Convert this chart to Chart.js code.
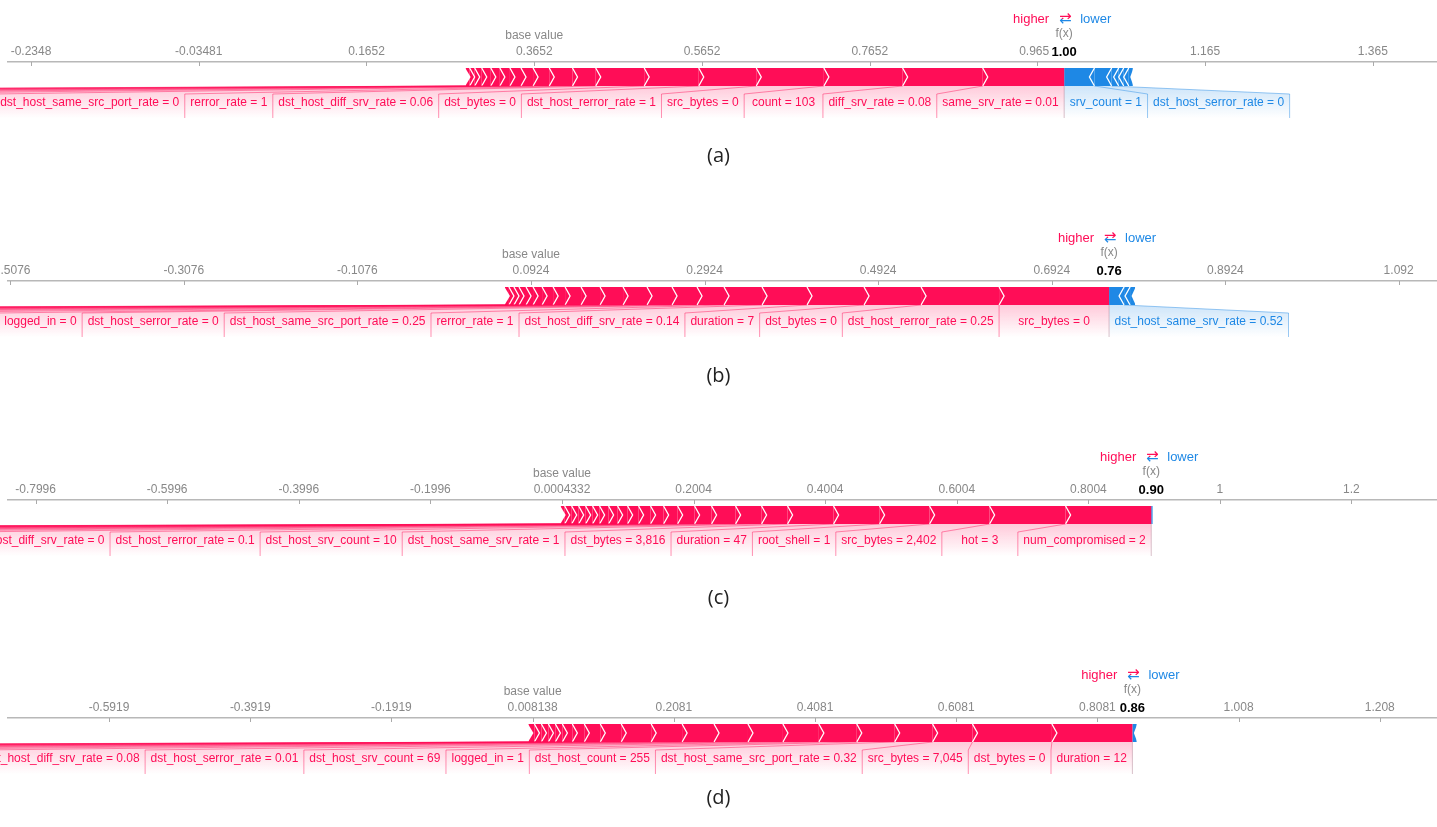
<!DOCTYPE html>
<html>
<head>
<meta charset="utf-8">
<script src="https://cdn.jsdelivr.net/npm/chart.js@4"></script>
<style>
  body { margin: 0; background: #fff; width: 1437px; height: 827px; overflow: hidden; position: relative; }
  .panel { position: absolute; left: 0; }
  .cap { position: absolute; left: 0; width: 1437px; text-align: center; font: 20px "Open Sans", sans-serif; color: #222; }
</style>
</head>
<body>
<canvas class="panel" id="p0" width="1437" height="219" style="top:0"></canvas>
<canvas class="panel" id="p1" width="1437" height="219" style="top:219px"></canvas>
<canvas class="panel" id="p2" width="1437" height="219" style="top:438px"></canvas>
<canvas class="panel" id="p3" width="1437" height="171" style="top:656px"></canvas>
<div class="cap" style="top:141px">(a)</div>
<div class="cap" style="top:361px">(b)</div>
<div class="cap" style="top:583px">(c)</div>
<div class="cap" style="top:783px">(d)</div>
<script>
// ---- data ----
const panelNames = ['(a)', '(b)', '(c)', '(d)'];
const baseValues = [0.3652, 0.0924, 0.0004332, 0.008138];
const axisMin = [-0.2622, -0.5101, -0.8415, -0.7350];
const axisMax = [1.4415, 1.1362, 1.3302, 1.2891];

const tickValues = [
    [-0.2348, -0.03481, 0.1652, 0.3652, 0.5652, 0.7652, 0.9652, 1.165, 1.365],
    [-0.5076, -0.3076, -0.1076, 0.0924, 0.2924, 0.4924, 0.6924, 0.8924, 1.092],
    [-0.7996, -0.5996, -0.3996, -0.1996, 0.0004332, 0.2004, 0.4004, 0.6004, 0.8004, 1, 1.2],
    [-0.5919, -0.3919, -0.1919, 0.008138, 0.2081, 0.4081, 0.6081, 0.8081, 1.008, 1.208]
];
const tickText = [
    ['-0.2348', '-0.03481', '0.1652', '0.3652', '0.5652', '0.7652', '0.9652', '1.165', '1.365'],
    ['-0.5076', '-0.3076', '-0.1076', '0.0924', '0.2924', '0.4924', '0.6924', '0.8924', '1.092'],
    ['-0.7996', '-0.5996', '-0.3996', '-0.1996', '0.0004332', '0.2004', '0.4004', '0.6004', '0.8004', '1', '1.2'],
    ['-0.5919', '-0.3919', '-0.1919', '0.008138', '0.2081', '0.4081', '0.6081', '0.8081', '1.008', '1.208']
];

// red (pushing higher), left to right; '' = too small to be labelled on screen
const redEffectsA = [0.0048, 0.006, 0.0084, 0.0108, 0.0108, 0.012, 0.0132, 0.0144, 0.0193,
    0.0277, 0.0277, 0.0578, 0.065, 0.0686, 0.0806, 0.0939, 0.0955, 0.0971];
const redLabelsA = ['', '', '', '', '', '', '', '', '',
    'dst_host_same_src_port_rate = 0', 'rerror_rate = 1', 'dst_host_diff_srv_rate = 0.06', 'dst_bytes = 0',
    'dst_host_rerror_rate = 1', 'src_bytes = 0', 'count = 103', 'diff_srv_rate = 0.08', 'same_srv_rate = 0.01'];
// blue (pushing lower), from f(x) outwards
const blueEffectsA = [0.0361, 0.0205, 0.0084, 0.006, 0.006, 0.0048];
const blueLabelsA = ['srv_count = 1', 'dst_host_serror_rate = 0', '', '', '', ''];

const redEffectsB = [0.0046, 0.0058, 0.0058, 0.0081, 0.0081, 0.0104, 0.0127, 0.0138, 0.0184, 0.0219, 0.0265, 0.0276,
    0.0288, 0.0288, 0.0311, 0.0438, 0.0518, 0.0657, 0.0657, 0.0899, 0.1267];
const redLabelsB = ['', '', '', '', '', '', '', '', '', '', '', '',
    'logged_in = 0', 'dst_host_serror_rate = 0', 'dst_host_same_src_port_rate = 0.25', 'rerror_rate = 1',
    'dst_host_diff_srv_rate = 0.14', 'duration = 7', 'dst_bytes = 0', 'dst_host_rerror_rate = 0.25', 'src_bytes = 0'];
const blueEffectsB = [0.0173, 0.0069, 0.0058];
const blueLabelsB = ['dst_host_same_srv_rate = 0.52', '', ''];

const redEffectsC = [0.0061, 0.0106, 0.0106, 0.0106, 0.0106, 0.0106, 0.0137, 0.0137, 0.0152, 0.0167, 0.0182, 0.0198, 0.0213, 0.0258,
    0.0258, 0.0365, 0.0395, 0.0395, 0.0699, 0.0699, 0.076, 0.0912, 0.1155, 0.1302];
const redLabelsC = ['', '', '', '', '', '', '', '', '', '', '', '', '', '',
    'dst_host_diff_srv_rate = 0', 'dst_host_rerror_rate = 0.1', 'dst_host_srv_count = 10', 'dst_host_same_srv_rate = 1',
    'dst_bytes = 3,816', 'duration = 47', 'root_shell = 1', 'src_bytes = 2,402', 'hot = 3', 'num_compromised = 2'];
const blueEffectsC = [0.002];
const blueLabelsC = [''];

const redEffectsD = [0.0085, 0.0099, 0.0099, 0.0099, 0.0099, 0.0141, 0.017, 0.0226, 0.0297, 0.0424, 0.0438, 0.0452,
    0.0481, 0.0495, 0.0509, 0.0537, 0.0537, 0.0537, 0.0565, 0.1125, 0.114];
const redLabelsD = ['', '', '', '', '', '', '', '', '', '', '', '',
    'dst_host_diff_srv_rate = 0.08', 'dst_host_serror_rate = 0.01', 'dst_host_srv_count = 69', 'logged_in = 1',
    'dst_host_count = 255', 'dst_host_same_src_port_rate = 0.32', 'src_bytes = 7,045', 'dst_bytes = 0', 'duration = 12'];
const blueEffectsD = [0.006];
const blueLabelsD = [''];

const redEffects = [redEffectsA, redEffectsB, redEffectsC, redEffectsD];
const redLabels = [redLabelsA, redLabelsB, redLabelsC, redLabelsD];
const blueEffects = [blueEffectsA, blueEffectsB, blueEffectsC, blueEffectsD];
const blueLabels = [blueLabelsA, blueLabelsB, blueLabelsC, blueLabelsD];

const RED = '#ff0d57', BLUE = '#1e88e5';
const FONT = '"Liberation Sans", Arial, sans-serif';

function buildSegments(base, red, blue) {
    const neg = blue.reduce((a, b) => a + b, 0);
    let v = base - neg;
    const reds = [], blues = [];
    red.forEach(e => { reds.push([v, v + e]); v += e; });
    const fx = v;
    blue.forEach(e => { blues.push([v, v + e]); v += e; });
    return { reds, blues, fx };
}

function link(ctx, l, r, bl, br, bot, lt, lb, rgb, edgeX0, edgeX1) {
    const g = ctx.createLinearGradient(0, bot, 0, lb);
    g.addColorStop(0, 'rgba(' + rgb + ',0.22)');
    g.addColorStop(1, 'rgba(' + rgb + ',0)');
    ctx.fillStyle = g;
    ctx.beginPath();
    ctx.moveTo(l, bot); ctx.lineTo(r, bot); ctx.lineTo(br, lt); ctx.lineTo(br, lb);
    ctx.lineTo(bl, lb); ctx.lineTo(bl, lt); ctx.closePath();
    ctx.fill();
    ctx.strokeStyle = 'rgba(' + rgb + ',0.45)';
    ctx.lineWidth = 1;
    ctx.beginPath();
    ctx.moveTo(edgeX0, bot); ctx.lineTo(edgeX1, lt); ctx.lineTo(edgeX1, lb);
    ctx.stroke();
}

const forcePlugin = {
    id: 'force',
    afterDatasetsDraw(chart, args, o) {
        const ctx = chart.ctx, xs = chart.scales.x, area = chart.chartArea;
        const bar = chart.getDatasetMeta(0).data[0];
        const top = bar.y - bar.height / 2, bot = bar.y + bar.height / 2, mid = bar.y;
        const px = v => xs.getPixelForValue(v);
        const tip = 5;
        const fxPx = px(o.fx);
        ctx.save();

        // small tick marks under the axis line
        ctx.strokeStyle = '#aaa'; ctx.lineWidth = 1;
        xs.ticks.forEach(t => {
            const p = Math.round(px(t.value)) + 0.5;
            ctx.beginPath(); ctx.moveTo(p, area.top); ctx.lineTo(p, area.top + 4); ctx.stroke();
        });

        // chevrons between the feature blocks
        ctx.strokeStyle = '#fff'; ctx.fillStyle = '#fff'; ctx.lineWidth = 1.3;
        o.reds.forEach((s, i) => {
            const b = px(s[0]);
            ctx.beginPath();
            if (i === 0) {
                ctx.moveTo(b - 1, top - 1); ctx.lineTo(b + tip, mid); ctx.lineTo(b - 1, bot + 1); ctx.closePath(); ctx.fill();
            } else {
                ctx.moveTo(b, top); ctx.lineTo(b + tip, mid); ctx.lineTo(b, bot); ctx.stroke();
            }
        });
        o.blues.forEach((s, i) => {
            const b = px(s[1]);
            ctx.beginPath();
            if (i === o.blues.length - 1) {
                const d = Math.max(0, Math.min(tip, b - px(s[0]) - 1.5));
                if (d > 0) {
                    ctx.moveTo(b + 1, top - 1); ctx.lineTo(b - d, mid); ctx.lineTo(b + 1, bot + 1); ctx.closePath(); ctx.fill();
                }
            } else {
                ctx.moveTo(b, top); ctx.lineTo(b - tip, mid); ctx.lineTo(b, bot); ctx.stroke();
            }
        });

        // labels under the bar
        const lt = bot + 8, lb = bot + 32, ly = bot + 17;
        ctx.font = '12px ' + FONT;
        const texts = [];
        let cur = fxPx;
        for (let i = o.reds.length - 1; i >= 0; i--) {
            const l = px(o.reds[i][0]), r = px(o.reds[i][1]), txt = o.redLabels[i];
            const w = txt ? Math.max(ctx.measureText(txt).width + 11, r - l) : 150;
            const bl = cur - w, br = cur;
            cur = bl;
            link(ctx, l, r, bl, br, bot, lt, lb, '255,13,87', l, bl);
            if (txt) texts.push([txt, (bl + br) / 2, RED]);
        }
        cur = fxPx;
        o.blues.forEach((s, i) => {
            const txt = o.blueLabels[i];
            if (!txt) return;
            const l = px(s[0]), r = px(s[1]);
            const w = Math.max(ctx.measureText(txt).width + 11, r - l);
            const bl = cur, br = cur + w;
            cur = br;
            link(ctx, l, r, bl, br, bot, lt, lb, '30,136,229', r, br);
            texts.push([txt, (bl + br) / 2, BLUE]);
        });
        ctx.strokeStyle = 'rgba(190,150,165,0.6)';
        ctx.beginPath(); ctx.moveTo(fxPx, bot); ctx.lineTo(fxPx, lb); ctx.stroke();

        ctx.textAlign = 'center'; ctx.textBaseline = 'middle';
        texts.forEach(t => { ctx.fillStyle = t[2]; ctx.fillText(t[0], t[1], ly); });

        // texts above the axis
        ctx.fillStyle = '#888';
        ctx.fillText('base value', px(o.base), 36);
        ctx.fillText('f(x)', fxPx, 34);
        ctx.font = 'bold 13px ' + FONT;
        const fxt = o.fx.toFixed(2);
        const fw = ctx.measureText(fxt).width;
        ctx.fillStyle = '#fff';
        ctx.fillRect(fxPx - fw / 2 - 2, 44, fw + 4, 15);
        ctx.fillStyle = '#000';
        ctx.fillText(fxt, fxPx, 52);

        ctx.font = '13px ' + FONT;
        ctx.textAlign = 'right'; ctx.fillStyle = RED;
        ctx.fillText('higher', fxPx - 15, 19);
        ctx.textAlign = 'left'; ctx.fillStyle = BLUE;
        ctx.fillText('lower', fxPx + 16, 19);
        ctx.textAlign = 'center'; ctx.font = '15px "DejaVu Sans"';
        [[RED, 0, 19], [BLUE, 19, 40]].forEach(h => {
            ctx.save();
            ctx.beginPath(); ctx.rect(fxPx - 12, h[1], 26, h[2] - h[1]); ctx.clip();
            ctx.fillStyle = h[0];
            ctx.fillText('\u21C4', fxPx + 1, 19);
            ctx.restore();
        });
        ctx.restore();
    }
};

function drawPanel(p) {
    const seg = buildSegments(baseValues[p], redEffects[p], blueEffects[p]);
    const datasets = [];
    seg.reds.forEach(s => datasets.push({ data: [s], backgroundColor: RED }));
    seg.blues.forEach(s => datasets.push({ data: [s], backgroundColor: BLUE }));
    datasets.forEach(d => Object.assign(d, { borderWidth: 0, barThickness: 18, grouped: false, inflateAmount: 0 }));

    new Chart(document.getElementById('p' + p), {
        type: 'bar',
        data: { labels: [panelNames[p]], datasets },
        options: {
            responsive: false,
            animation: false,
            indexAxis: 'y',
            layout: { padding: { top: 38, left: 8, right: 0, bottom: document.getElementById('p' + p).height - 92 } },
            plugins: {
                legend: { display: false },
                tooltip: { enabled: false },
                force: {
                    reds: seg.reds, blues: seg.blues, fx: seg.fx, base: baseValues[p],
                    redLabels: redLabels[p], blueLabels: blueLabels[p]
                }
            },
            scales: {
                x: {
                    type: 'linear', position: 'top', min: axisMin[p], max: axisMax[p],
                    afterBuildTicks: s => { s.ticks = tickValues[p].map(v => ({ value: v })); },
                    afterFit: s => { s.height = 24; s.paddingLeft = 0; s.paddingRight = 0; },
                    ticks: {
                        autoSkip: false, maxRotation: 0, padding: 3, color: '#888',
                        font: { family: FONT, size: 12 },
                        callback: v => tickText[p][tickValues[p].indexOf(v)]
                    },
                    grid: { drawOnChartArea: false, drawTicks: false },
                    border: { display: true, color: '#b8b8b8', width: 1.5 }
                },
                y: { display: false }
            }
        },
        plugins: [forcePlugin]
    });
}

[0, 1, 2, 3].forEach(drawPanel);
</script>
</body>
</html>
